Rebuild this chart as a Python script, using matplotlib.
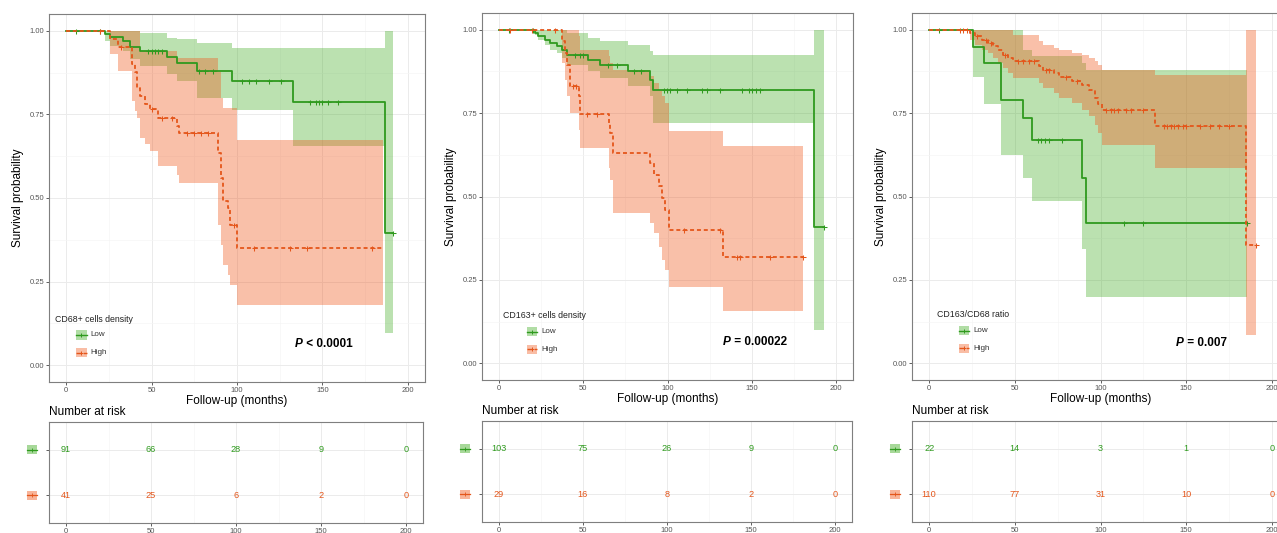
import matplotlib
matplotlib.use("Agg")
import matplotlib.pyplot as plt
from matplotlib.patches import Rectangle
from matplotlib.transforms import blended_transform_factory
from matplotlib.ticker import MultipleLocator
import numpy as np

plt.rcParams["font.family"] = ["Liberation Sans", "DejaVu Sans"]

# ---- CD68+ cells density ----
cd68_low_time = [0, 22.8, 25.7, 33.5, 37.4, 43.3, 59.3, 65.1, 76.4, 96.9, 132.6, 186.5]
cd68_low_surv = [1.0, 0.99, 0.98, 0.97, 0.952, 0.938, 0.922, 0.905, 0.88, 0.85, 0.788, 0.395]
cd68_low_lower = [1.0, 0.97, 0.955, 0.94, 0.915, 0.895, 0.87, 0.85, 0.80, 0.762, 0.655, 0.095]
cd68_low_upper = [1.0, 1.0, 1.0, 1.0, 1.0, 0.993, 0.978, 0.975, 0.963, 0.948, 0.948, 1.0]
cd68_low_end = 191.5
cd68_low_censor = [6, 20, 48, 50, 52, 54, 56, 78, 81, 86, 103, 107, 111, 119, 126,
                   143, 146, 148, 150, 153, 159, 191.5]

cd68_high_time = [0, 25.7, 30.6, 38.4, 40.4, 41.3, 43.3, 46.2, 49.1, 54.0, 65.0, 66.0,
                  89.1, 90.4, 91.6, 94.9, 95.9, 100.2]
cd68_high_surv = [1.0, 0.976, 0.951, 0.902, 0.878, 0.829, 0.805, 0.78, 0.765, 0.74, 0.715,
                  0.693, 0.635, 0.56, 0.49, 0.47, 0.42, 0.35]
cd68_high_lower = [1.0, 0.93, 0.88, 0.79, 0.76, 0.74, 0.68, 0.66, 0.64, 0.595, 0.57, 0.545,
                   0.42, 0.36, 0.30, 0.27, 0.24, 0.18]
cd68_high_upper = [1.0, 1.0, 1.0, 1.0, 1.0, 1.0, 0.94, 0.94, 0.94, 0.94, 0.918, 0.918,
                   0.878, 0.80, 0.77, 0.77, 0.77, 0.673]
cd68_high_end = 185.6
cd68_high_censor = [20, 32, 50, 56, 62, 71, 75, 79, 83, 98, 110, 131, 141, 179]

cd68_risk_low = [91, 66, 28, 9, 0]
cd68_risk_high = [41, 25, 6, 2, 0]

# ---- CD163+ cells density ----
cd163_low_time = [0, 21.4, 23.3, 27.3, 30.3, 34.2, 37.2, 40.2, 53.0, 59.9, 76.7, 89.6, 91.6, 186.7]
cd163_low_surv = [1.0, 0.99, 0.98, 0.97, 0.96, 0.95, 0.94, 0.925, 0.91, 0.895, 0.875, 0.848,
                  0.82, 0.41]
cd163_low_lower = [1.0, 0.985, 0.97, 0.955, 0.94, 0.93, 0.915, 0.895, 0.875, 0.855, 0.83, 0.80,
                   0.72, 0.10]
cd163_low_upper = [1.0, 1.0, 1.0, 1.0, 1.0, 1.0, 1.0, 0.99, 0.975, 0.965, 0.955, 0.935, 0.925, 1.0]
cd163_low_end = 192.7
cd163_low_censor = [6, 20, 45, 48, 50, 65, 70, 80, 84, 97.7, 99.7, 101.7, 105.6, 111.6, 120.5,
                    123.4, 131.3, 144.2, 148.2, 150.2, 152.2, 155.1, 192.7]

cd163_high_time = [0, 37.4, 39.4, 40.4, 42.3, 47.3, 48.3, 65.1, 66.1, 67.7, 89.8, 92.2, 94.8,
                   96.7, 98.7, 100.7, 132.9]
cd163_high_surv = [1.0, 0.965, 0.93, 0.895, 0.83, 0.80, 0.748, 0.72, 0.69, 0.63, 0.60, 0.565,
                   0.53, 0.495, 0.46, 0.40, 0.32]
cd163_high_lower = [1.0, 0.90, 0.85, 0.80, 0.75, 0.70, 0.645, 0.585, 0.55, 0.45, 0.42, 0.39,
                    0.35, 0.31, 0.28, 0.23, 0.158]
cd163_high_upper = [1.0, 1.0, 1.0, 1.0, 1.0, 0.98, 0.94, 0.92, 0.90, 0.88, 0.86, 0.84, 0.82,
                    0.80, 0.78, 0.695, 0.65]
cd163_high_end = 180.4
cd163_high_censor = [6.7, 19.6, 33.4, 44, 46, 52, 58, 109.6, 131.4, 141.2, 143.2, 161, 180.4]

cd163_risk_low = [103, 75, 26, 9, 0]
cd163_risk_high = [29, 16, 8, 2, 0]

# ---- CD163/CD68 ratio ----
ratio_low_time = [0, 25.8, 32.0, 42.2, 54.7, 60.1, 89.4, 91.7]
ratio_low_surv = [1.0, 0.948, 0.90, 0.79, 0.735, 0.67, 0.555, 0.42]
ratio_low_lower = [1.0, 0.858, 0.778, 0.624, 0.554, 0.486, 0.344, 0.20]
ratio_low_upper = [1.0, 1.0, 1.0, 1.0, 0.94, 0.92, 0.90, 0.878]
ratio_low_end = 185.2
ratio_low_censor = [6, 63.4, 65.5, 67.5, 70, 77.8, 113.5, 125, 185.2]

ratio_high_time = [0, 23.9, 26.8, 30.6, 34.5, 37.4, 40.3, 43.2, 46.1, 48.9, 64.2, 66.3, 72.8,
                   75.7, 83.6, 89.0, 93.0, 96.9, 98.8, 100.8, 131.8, 184.8]
ratio_high_surv = [1.0, 0.99, 0.98, 0.97, 0.96, 0.95, 0.94, 0.925, 0.915, 0.905, 0.89, 0.88,
                   0.87, 0.858, 0.845, 0.833, 0.82, 0.795, 0.778, 0.758, 0.71, 0.355]
ratio_high_lower = [1.0, 0.97, 0.955, 0.94, 0.93, 0.915, 0.90, 0.885, 0.87, 0.855, 0.84, 0.825,
                    0.81, 0.795, 0.78, 0.76, 0.74, 0.715, 0.69, 0.655, 0.585, 0.085]
ratio_high_upper = [1.0, 1.0, 1.0, 1.0, 1.0, 1.0, 1.0, 1.0, 1.0, 0.985, 0.965, 0.955, 0.945,
                    0.94, 0.93, 0.925, 0.915, 0.905, 0.895, 0.88, 0.865, 1.0]
ratio_high_end = 190.8
ratio_high_censor = [18, 20, 22, 28, 33, 36, 44, 52, 55, 58, 61, 68, 70, 80, 86, 103, 106, 108,
                     110, 115, 118, 125, 137, 139, 141, 143, 145, 148, 150, 158, 164, 169, 175,
                     190.8]

ratio_risk_low = [22, 14, 3, 1, 0]
ratio_risk_high = [110, 77, 31, 10, 0]

risk_times = [0, 50, 100, 150, 200]
group_labels = ["Low", "High"]

GREEN = "#2f9a1e"
GREEN_FILL = "#3caa1e"
ORANGE = "#e4561b"
ORANGE_FILL = "#f05a1e"
GREY = "#7f7f7f"
GRID = "#ebebeb"

W, H = 1277, 533
fig = plt.figure(figsize=(W / 100, H / 100), dpi=100)


def px_axes(l, t, r, b):
    return fig.add_axes([l / W, 1 - b / H, (r - l) / W, (b - t) / H])


def style_axes(ax):
    ax.set_xlim(-10, 210)
    ax.xaxis.set_major_locator(MultipleLocator(50))
    ax.xaxis.set_minor_locator(MultipleLocator(25))
    ax.grid(True, which="major", color=GRID, lw=0.7)
    ax.grid(True, which="minor", color="#f5f5f5", lw=0.5)
    ax.set_axisbelow(True)
    for sp in ax.spines.values():
        sp.set_color(GREY)
        sp.set_linewidth(0.8)
    ax.tick_params(which="major", length=2, width=0.6, color="#444444",
                   labelsize=5.5, labelcolor="#555555", pad=1.5)
    ax.tick_params(which="minor", length=0)


def step_at(times, surv, x):
    i = np.searchsorted(times, x, side="right") - 1
    return np.asarray(surv)[i]


def draw_band(ax, time, lower, upper, end, color, alpha):
    t = np.append(time, end)
    lo = np.append(lower, lower[-1])
    up = np.append(upper, upper[-1])
    ax.fill_between(t, lo, up, step="post", color=color, alpha=alpha, lw=0)


def draw_curve(ax, time, surv, end, censor, color, ls):
    t = np.append(time, end)
    s = np.append(surv, surv[-1])
    ax.step(t, s, where="post", color=color, lw=1.3, ls=ls)
    ax.plot(censor, step_at(time, surv, censor), ls="none", marker="+",
            ms=3.6, mew=0.75, color=color)


def draw_key(ax, x, y, w, h, fill, color, ls):
    ax.add_patch(Rectangle((x - w / 2, y - h / 2), w, h, facecolor=fill,
                           alpha=0.4, lw=0, clip_on=False))
    ax.plot([x - w / 2, x + w / 2], [y, y], color=color, lw=1.0, ls=ls, clip_on=False)
    ax.plot([x], [y], marker="+", ms=3, mew=0.7, color=color, clip_on=False)


def draw_panel(main_box, risk_box, low, high, legend_title, legend_pos, p_text, p_pos,
               risk_low, risk_high):
    ax = px_axes(*main_box)
    style_axes(ax)
    ax.set_ylim(-0.05, 1.05)
    ax.yaxis.set_major_locator(MultipleLocator(0.25))
    ax.yaxis.set_minor_locator(MultipleLocator(0.125))
    ax.yaxis.set_major_formatter(plt.FuncFormatter(lambda v, _: f"{v:.2f}"))

    draw_band(ax, low[0], low[2], low[3], low[4], GREEN_FILL, 0.35)
    draw_band(ax, high[0], high[2], high[3], high[4], ORANGE_FILL, 0.38)
    draw_curve(ax, low[0], low[1], low[4], low[5], GREEN, "-")
    draw_curve(ax, high[0], high[1], high[4], high[5], ORANGE, (0, (2.2, 1.6)))

    ax.set_xlabel("Follow-up (months)", fontsize=8.5, labelpad=1)
    ax.set_ylabel("Survival probability", fontsize=8.5, labelpad=4)

    # legend inside the plot
    tx, ty, kx, lx = legend_pos
    ax.text(tx, ty, legend_title, fontsize=6.3, va="center", ha="left", color="#222222")
    for yk, lab, fill, col, ls in [(ty - 0.047, group_labels[0], GREEN_FILL, GREEN, "-"),
                                   (ty - 0.1, group_labels[1], ORANGE_FILL, ORANGE, "--")]:
        draw_key(ax, kx, yk, 6.0, 0.028, fill, col, ls)
        ax.text(lx, yk, lab, fontsize=5.8, va="center", ha="left", color="#333333")

    # p-value
    pt = ax.text(p_pos[0], p_pos[1], "P", fontsize=8.5, fontweight="bold",
                 style="italic", va="center", ha="left")
    ax.annotate(p_text, xy=(1, 0), xycoords=pt, va="bottom", ha="left",
                fontsize=8.5, fontweight="bold")

    # risk table
    axr = px_axes(*risk_box)
    style_axes(axr)
    axr.set_ylim(0.4, 2.6)
    axr.set_yticks([1, 2])
    axr.set_yticklabels([])
    for x, n in zip(risk_times, risk_low):
        axr.text(x, 2, str(n), color=GREEN, fontsize=6.6, ha="center", va="center")
    for x, n in zip(risk_times, risk_high):
        axr.text(x, 1, str(n), color=ORANGE, fontsize=6.6, ha="center", va="center")
    axr.text(0, 1.04, "Number at risk", transform=axr.transAxes, fontsize=8.5,
             va="bottom", ha="left")
    tr = blended_transform_factory(axr.transAxes, axr.transData)
    bw = 10 / (risk_box[2] - risk_box[0])
    for yk, fill, col in [(2, GREEN_FILL, GREEN), (1, ORANGE_FILL, ORANGE)]:
        axr.add_patch(Rectangle((-0.046 - bw / 2, yk - 0.1), bw, 0.2, facecolor=fill,
                                alpha=0.45, lw=0, transform=tr, clip_on=False))
        axr.plot([-0.046 - bw / 2, -0.046 + bw / 2], [yk, yk], color=col, lw=0.9,
                 transform=tr, clip_on=False)
        axr.plot([-0.046], [yk], marker="+", ms=3, mew=0.6, color=col,
                 transform=tr, clip_on=False)


cd68_low = (cd68_low_time, cd68_low_surv, cd68_low_lower, cd68_low_upper, cd68_low_end,
            cd68_low_censor)
cd68_high = (cd68_high_time, cd68_high_surv, cd68_high_lower, cd68_high_upper, cd68_high_end,
             cd68_high_censor)
cd163_low = (cd163_low_time, cd163_low_surv, cd163_low_lower, cd163_low_upper, cd163_low_end,
             cd163_low_censor)
cd163_high = (cd163_high_time, cd163_high_surv, cd163_high_lower, cd163_high_upper,
              cd163_high_end, cd163_high_censor)
ratio_low = (ratio_low_time, ratio_low_surv, ratio_low_lower, ratio_low_upper, ratio_low_end,
             ratio_low_censor)
ratio_high = (ratio_high_time, ratio_high_surv, ratio_high_lower, ratio_high_upper,
              ratio_high_end, ratio_high_censor)

draw_panel((49, 14, 425, 382), (49, 422, 423, 523), cd68_low, cd68_high,
           "CD68+ cells density", (-6.5, 0.138, 9.0, 14.5), " < 0.0001", (134, 0.065),
           cd68_risk_low, cd68_risk_high)
draw_panel((482, 13, 853, 380), (482, 421, 852, 522), cd163_low, cd163_high,
           "CD163+ cells density", (2.4, 0.142, 19.4, 25.5), " = 0.00022", (133, 0.063),
           cd163_risk_low, cd163_risk_high)
draw_panel((912, 13, 1289, 380), (912, 421, 1289, 522), ratio_low, ratio_high,
           "CD163/CD68 ratio", (4.8, 0.145, 20.2, 26.0), " = 0.007", (144, 0.06),
           ratio_risk_low, ratio_risk_high)

fig.savefig("out.png", dpi=100)
